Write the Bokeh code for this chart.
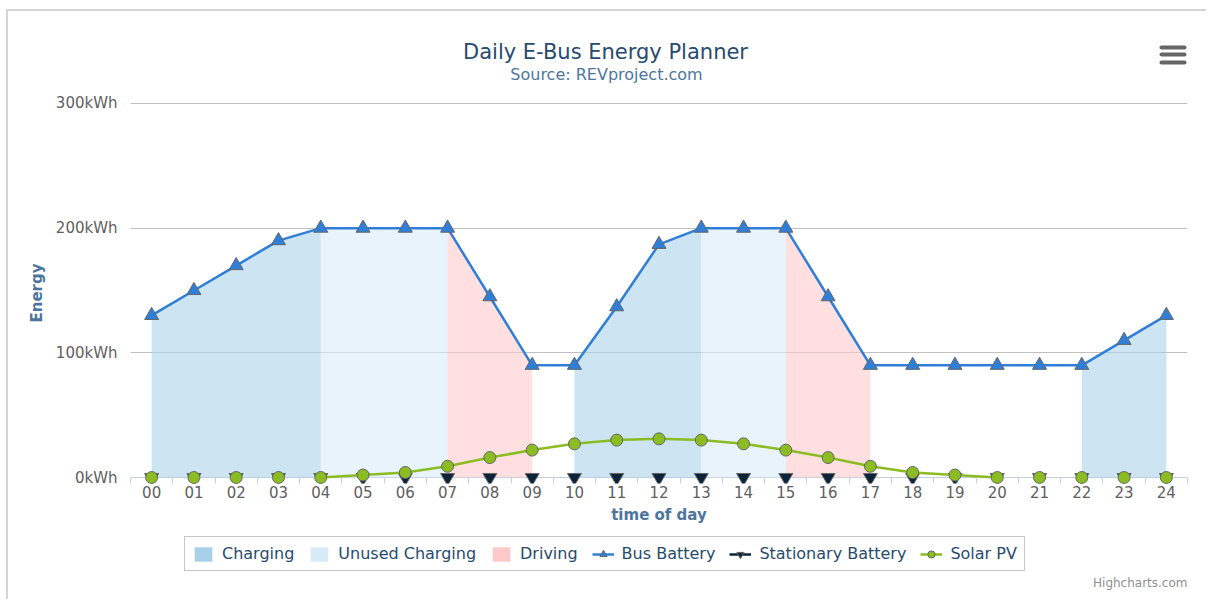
from bokeh.plotting import figure
from bokeh.layouts import column
from bokeh.models import FixedTicker, Legend, LegendItem, Range1d, Span
from bokeh.core.properties import value
from bokeh.embed import file_html
from bokeh.resources import INLINE

NaN = float("nan")

# ---------------- data ----------------
hours = list(range(25))
hour_labels = ["00", "01", "02", "03", "04", "05", "06", "07", "08", "09", "10", "11", "12",
               "13", "14", "15", "16", "17", "18", "19", "20", "21", "22", "23", "24"]

bus_battery = [130, 150, 170, 190, 200, 200, 200, 200, 145, 90, 90, 137, 187,
               200, 200, 200, 145, 90, 90, 90, 90, 90, 90, 110, 130]
stationary_battery = [0, 0, 0, 0, 0, 0, 0, 0, 0, 0, 0, 0, 0,
                      0, 0, 0, 0, 0, 0, 0, 0, 0, 0, 0, 0]
solar_pv = [0, 0, 0, 0, 0, 2, 4, 9, 16, 22, 27, 30, 31,
            30, 27, 22, 16, 9, 4, 2, 0, 0, 0, 0, 0]

charging = [130, 150, 170, 190, 200, None, None, None, None, None, 90, 137, 187,
            200, None, None, None, None, None, None, None, None, 90, 110, 130]
unused_charging = [None, None, None, None, 200, 200, 200, 200, None, None, None, None, None,
                   200, 200, 200, None, None, None, None, None, None, None, None, None]
driving = [None, None, None, None, None, None, None, 200, 145, 90, None, None, None,
           None, None, 200, 145, 90, None, None, None, None, None, None, None]

y_ticks = [0, 100, 200, 300]
y_tick_labels = ["0kWh", "100kWh", "200kWh", "300kWh"]

title_text = "Daily E-Bus Energy Planner"
subtitle_text = "Source: REVproject.com"
credits_text = "Highcharts.com"

# ---------------- styles ----------------
FONT = "DejaVu Sans"
C_CHARGING = "#a8d0e8"
C_UNUSED = "#d8eaf8"
C_DRIVING = "#ffc8c8"
C_BUS = "#2f7ed8"
C_STAT = "#0d233a"
C_SOLAR = "#8bbc21"
AREA_ALPHA = 0.58
W = 1198
FL, FR = 122, 19          # frame borders shared by all stacked figures


def blank(height):
    f = figure(width=W, height=height, x_range=Range1d(FL, W - FR), y_range=Range1d(height, 0),
               output_backend="svg", toolbar_location=None, title=None,
               min_border_left=FL, min_border_right=FR, min_border_top=0, min_border_bottom=0,
               x_axis_location=None, y_axis_location=None)
    f.grid.grid_line_color = None
    f.outline_line_color = None
    f.background_fill_color = "white"
    f.border_fill_color = "white"
    return f


def runs(vals):
    segs, cur = [], []
    for i, v in enumerate(vals):
        if v is None:
            if cur:
                segs.append(cur)
                cur = []
        else:
            cur.append(i)
    if cur:
        segs.append(cur)
    return segs


# ---------------- header ----------------
HEAD_H = 81
head = blank(HEAD_H)
head.text(x=[597], y=[40], text=[title_text], text_font=value(FONT), text_font_size="21px",
          text_color="#274b6d", text_align="center", text_baseline="middle")
head.text(x=[598], y=[63], text=[subtitle_text], text_font=value(FONT), text_font_size="16px",
          text_color="#4d759e", text_align="center", text_baseline="middle")
# export menu icon
head.segment(x0=[1153, 1153, 1153], y0=[36, 43, 51], x1=[1176, 1176, 1176], y1=[36, 43, 51],
             line_color="#666666", line_width=4, line_cap="round")

# ---------------- main chart ----------------
# the frame reaches a little below 0 so that markers sitting on 0 are not cut
p = figure(width=W, height=437, x_range=Range1d(-0.5, 24.5), y_range=Range1d(-4.8, 300.8),
           output_backend="svg", toolbar_location=None, title=None,
           min_border_left=FL, min_border_right=FR, min_border_top=10, min_border_bottom=46)
p.outline_line_color = None
p.background_fill_color = "white"
p.border_fill_color = "white"

# x axis line at 0
p.add_layout(Span(location=0, dimension="width", line_color="#c0d0e0", line_width=1,
                  level="underlay"))

area_series = [("Charging", charging, C_CHARGING),
               ("Unused Charging", unused_charging, C_UNUSED),
               ("Driving", driving, C_DRIVING)]
for name, vals, col in area_series:
    for seg in runs(vals):
        p.varea(x=[hours[i] for i in seg], y1=[0] * len(seg), y2=[vals[i] for i in seg],
                fill_color=col, fill_alpha=AREA_ALPHA)

p.line(hours, bus_battery, line_color=C_BUS, line_width=2.5)
p.scatter(hours, bus_battery, marker="triangle", size=14, fill_color=C_BUS,
          line_color="#666666", line_width=1)
p.scatter(hours, stationary_battery, marker="inverted_triangle", size=14,
          fill_color=C_STAT, line_color="#666666", line_width=1)

# solar line: the parts lying on the axis are hidden by the axis in the original
n = len(solar_pv)
solar_vis = [v if (v > 0 or (i > 0 and solar_pv[i - 1] > 0) or (i < n - 1 and solar_pv[i + 1] > 0))
             else None for i, v in enumerate(solar_pv)]
for seg in runs(solar_vis):
    p.line([hours[i] for i in seg], [solar_pv[i] for i in seg], line_color=C_SOLAR,
           line_width=2.5)
p.scatter(hours, solar_pv, marker="circle", size=12, fill_color=C_SOLAR,
          line_color="#666666", line_width=1)

xa = p.xaxis[0]
xa.ticker = FixedTicker(ticks=hours, minor_ticks=[h - 0.5 for h in hours] + [hours[-1] + 0.5])
xa.major_label_overrides = {h: lab for h, lab in zip(hours, hour_labels)}
xa.major_tick_out = 0
xa.major_tick_in = 0
xa.minor_tick_out = 0
xa.minor_tick_in = 6
xa.minor_tick_line_color = "#c0d0e0"
xa.axis_line_color = None
xa.major_label_text_font = FONT
xa.major_label_text_font_size = "15px"
xa.major_label_text_color = "#606060"
xa.major_label_standoff = 2
xa.axis_label = "time of day"
xa.axis_label_text_font = FONT
xa.axis_label_text_font_size = "15px"
xa.axis_label_text_font_style = "bold"
xa.axis_label_text_color = "#4d759e"
xa.axis_label_standoff = 5

ya = p.yaxis[0]
ya.ticker = FixedTicker(ticks=y_ticks)
ya.major_label_overrides = {t: lab for t, lab in zip(y_ticks, y_tick_labels)}
ya.axis_line_color = None
ya.major_tick_line_color = None
ya.major_tick_out = 0
ya.major_tick_in = 0
ya.minor_tick_line_color = None
ya.major_label_text_font = FONT
ya.major_label_text_font_size = "15px"
ya.major_label_text_color = "#606060"
ya.major_label_standoff = 13
ya.axis_label = "Energy"
ya.axis_label_text_font = FONT
ya.axis_label_text_font_size = "15px"
ya.axis_label_text_font_style = "bold"
ya.axis_label_text_color = "#4d759e"
ya.axis_label_standoff = 7

p.xgrid.grid_line_color = None
p.ygrid.grid_line_color = "#c0c0c0"
p.ygrid.ticker = FixedTicker(ticks=[t for t in y_ticks if t > 0])

# ---------------- footer: legend + credits ----------------
FOOT_H = 70
foot = blank(FOOT_H)
legend_items = []
for name, vals, col in area_series:
    r = foot.varea(x=[NaN], y1=[NaN], y2=[NaN], fill_color=col, fill_alpha=1.0)
    legend_items.append(LegendItem(label=name, renderers=[r]))
lb = foot.line([NaN], [NaN], line_color=C_BUS, line_width=2.5)
mb = foot.scatter([NaN], [NaN], marker="triangle", size=12, fill_color=C_BUS,
                  line_color="#666666", line_width=1)
legend_items.append(LegendItem(label="Bus Battery", renderers=[lb, mb]))
ls = foot.line([NaN], [NaN], line_color=C_STAT, line_width=2.5)
ms = foot.scatter([NaN], [NaN], marker="inverted_triangle", size=12, fill_color=C_STAT,
                  line_color="#666666", line_width=1)
legend_items.append(LegendItem(label="Stationary Battery", renderers=[ls, ms]))
lp = foot.line([NaN], [NaN], line_color=C_SOLAR, line_width=2.5)
mp = foot.scatter([NaN], [NaN], marker="circle", size=11, fill_color=C_SOLAR,
                  line_color="#666666", line_width=1)
legend_items.append(LegendItem(label="Solar PV", renderers=[lp, mp]))

legend = Legend(items=legend_items, orientation="horizontal", location=(54, 28),
                border_line_color="#909090", border_line_width=1, background_fill_alpha=1,
                label_text_font=FONT, label_text_font_size="16px", label_text_color="#274b6d",
                glyph_width=22, glyph_height=18, label_standoff=8, spacing=14,
                padding=7, margin=0)
foot.add_layout(legend, "center")
foot.text(x=[1179], y=[53], text=[credits_text], text_font=value(FONT), text_font_size="12px",
          text_color="#909090", text_align="right", text_baseline="middle")

layout = column(head, p, foot, spacing=0,
                styles={"margin-left": "6px", "margin-top": "9px",
                        "border-left": "2px solid #d4d4d4", "border-top": "2px solid #d4d4d4"})

open("out.html", "w").write(file_html(layout, INLINE))
